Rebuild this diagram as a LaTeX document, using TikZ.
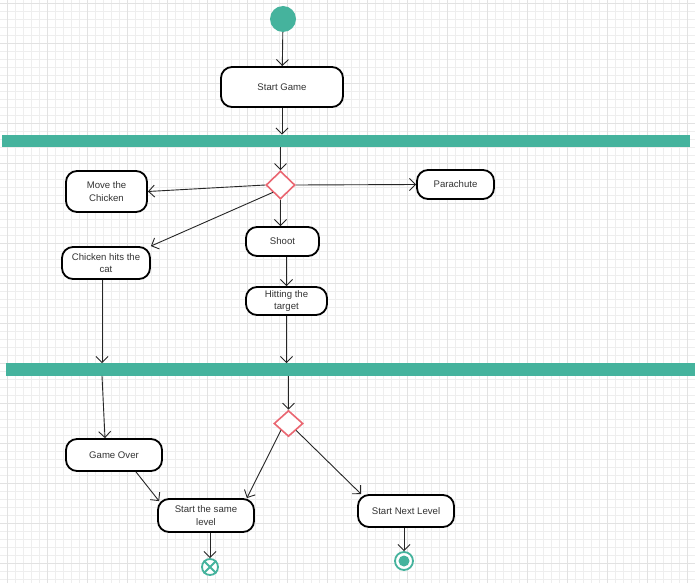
\documentclass[tikz,border=0pt]{standalone}
\usepackage{fontspec}
\setmainfont{Liberation Sans}
\usetikzlibrary{arrows.meta,shapes.geometric,calc}
\definecolor{teal}{RGB}{69,179,157}
\definecolor{decred}{RGB}{234,102,113}
\definecolor{txt}{RGB}{51,51,51}
\definecolor{gridminor}{RGB}{238,238,238}
\definecolor{gridmajor}{RGB}{226,226,226}
\begin{document}
\begin{tikzpicture}[x=1pt,y=-1pt,
  action/.style={draw=black,line width=1.8pt,rounded corners=11pt,fill=white,
    inner sep=0pt,align=center,text=txt,font=\fontsize{9.6}{12.5}\selectfont},
  forkbar/.style={fill=teal,draw=none,inner sep=0pt,minimum height=12.5pt},
  decision/.style={diamond,draw=decred,line width=1.6pt,fill=white,inner sep=0pt,
    minimum width=29pt,minimum height=28pt,aspect=1},
  flow/.style={draw=black!85,line width=0.9pt,-{Straight Barb[length=6pt,width=12pt]}}]
\useasboundingbox (0,0) rectangle (695,583);
\fill[white] (0,0) rectangle (695,583);
% background grid
\foreach \gx in {7,15,...,695} \draw[gridminor,line width=0.6pt] (\gx,0) -- (\gx,583);
\foreach \gy in {3,11,...,583} \draw[gridminor,line width=0.6pt] (0,\gy) -- (695,\gy);
\foreach \gx in {7,47,...,695} \draw[gridmajor,line width=0.6pt] (\gx,0) -- (\gx,583);
\foreach \gy in {3,43,...,583} \draw[gridmajor,line width=0.6pt] (0,\gy) -- (695,\gy);

% nodes
\node[circle,fill=teal,minimum size=26pt,inner sep=0pt] (start) at (283,19) {};
\node[action,minimum width=122pt,minimum height=40pt] (sg) at (282,87) {Start Game};
\node[forkbar,minimum width=688pt] (bar1) at (346,141) {};
\node[decision] (d1) at (280.5,185) {};
\node[action,minimum width=81pt,minimum height=41pt] (mc) at (106.5,191.5) {Move the\\Chicken};
\node[action,minimum width=77pt,minimum height=29pt] (para) at (455.5,184.5) {Parachute};
\node[action,minimum width=73pt,minimum height=29pt] (shoot) at (282.5,241.5) {Shoot};
\node[action,minimum width=88pt,minimum height=32pt] (cat) at (106,263) {Chicken hits the\\cat};
\node[action,minimum width=81pt,minimum height=28pt] (hit) at (286.5,301) {Hitting the\\target};
\node[forkbar,minimum width=689pt] (bar2) at (350.5,369.5) {};
\node[decision,minimum width=29pt,minimum height=26pt] (d2) at (288.5,423.5) {};
\node[action,minimum width=96pt,minimum height=32pt] (go) at (114,455) {Game Over};
\node[action,minimum width=96pt,minimum height=33pt] (same) at (206,515.5) {Start the same\\level};
\node[action,minimum width=96pt,minimum height=32pt] (next) at (406,511) {Start Next Level};
\node[circle,draw=teal,line width=1.8pt,fill=white,minimum size=16pt,inner sep=0pt] (ff) at (210,567) {};
\draw[teal,line width=1.8pt] (ff.north west) -- (ff.south east) (ff.north east) -- (ff.south west);
\node[circle,draw=teal,line width=1.8pt,fill=white,minimum size=18pt,inner sep=0pt] (fin) at (404,561) {};
\node[circle,fill=teal,minimum size=11pt,inner sep=0pt] (finin) at (fin) {};

% connectors
\draw[flow] (start) -- (sg);
\draw[flow] (sg.south) -- (sg.south |- bar1.north);
\draw[flow] (d1.north |- bar1.south) -- (d1.north);
\draw[flow] (d1.west) -- (mc.east);
\draw[flow] (d1.east) -- (para.west);
\draw[flow] (d1.south west) -- (cat.north east);
\draw[flow] (d1.south) -- (d1.south |- shoot.north);
\draw[flow] (hit.north |- shoot.south) -- (hit.north);
\draw[flow] ([xshift=-4pt]cat.south) -- ([xshift=-4pt]cat.south |- bar2.north);
\draw[flow] (hit.south) -- (hit.south |- bar2.north);
\draw[flow] ([xshift=-12pt]go.north |- bar2.south) -- ([xshift=-9pt]go.north);
\draw[flow] (d2.north |- bar2.south) -- (d2.north);
\draw[flow] ([xshift=22pt]go.south) -- ([xshift=2pt,yshift=-3pt]same.north west);
\draw[flow] (d2.south west) -- ([xshift=-8pt]same.north east);
\draw[flow] (d2.south east) -- ([xshift=4pt]next.north west);
\draw[flow] (ff.north |- same.south) -- (ff.north);
\draw[flow] (fin.north |- next.south) -- (fin.north);
\end{tikzpicture}
\end{document}
